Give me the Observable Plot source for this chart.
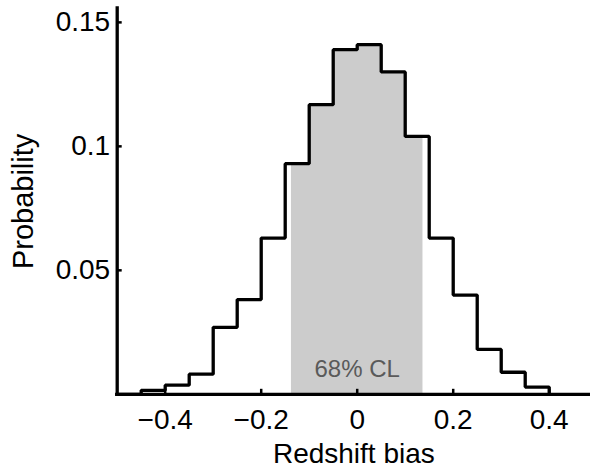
<!DOCTYPE html>
<html><head><meta charset="utf-8">
<script src="https://cdn.jsdelivr.net/npm/d3@7"></script>
<script src="https://cdn.jsdelivr.net/npm/@observablehq/plot@0.6"></script>
<style>html,body{margin:0;padding:0;background:#fff;} svg{display:block;}</style>
</head><body><div id="chart"></div>
<script>
const binStarts = [-0.45,-0.40,-0.35,-0.30,-0.25,-0.20,-0.15,-0.10,-0.05,0.00,0.05,0.10,0.15,0.20,0.25,0.30,0.35];
const binEnd = 0.40;
const probabilities = [0.0016,0.0037,0.0081,0.027,0.0382,0.063,0.093,0.1168,0.139,0.141,0.130,0.104,0.063,0.040,0.0181,0.0089,0.0029];
const clRange = [-0.137, 0.137];
const clLabel = "68% CL";
const xTicks = [-0.4,-0.2,0,0.2,0.4];
const xTickLabels = ["\u22120.4","\u22120.2","0","0.2","0.4"];
const yTicks = [0.05,0.1,0.15];
const yTickLabels = ["0.05","0.1","0.15"];
const xDomain = [-0.5, 0.486];
const yDomain = [0, 0.1556];
const xLabel = "Redshift bias";
const yLabel = "Probability";

// histogram outline (step-after)
const outline = [{x: xDomain[0], y: 0}];
binStarts.forEach((b, i) => outline.push({x: b, y: probabilities[i]}));
outline.push({x: binEnd, y: 0});

// confidence-level fill clipped to the histogram
const clPts = [];
binStarts.forEach((b, i) => {
  const e = i < binStarts.length - 1 ? binStarts[i + 1] : binEnd;
  if (e > clRange[0] && b < clRange[1]) clPts.push({x: Math.max(b, clRange[0]), y: probabilities[i]});
});
clPts.push({x: clRange[1], y: clPts[clPts.length - 1].y});

const chart = Plot.plot({
  width: 590, height: 468,
  marginTop: 8, marginBottom: 74.2, marginLeft: 116.7, marginRight: 0,
  style: {fontFamily: "'Liberation Sans', Arial, Helvetica, sans-serif", background: "#fff", color: "#000"},
  x: {domain: xDomain, label: null},
  y: {domain: yDomain, label: null},
  marks: [
    Plot.areaY(clPts, {x: "x", y: "y", curve: "step-after", fill: "#cccccc"}),
    Plot.line(outline, {x: "x", y: "y", curve: "step-after", stroke: "#000", strokeWidth: 3.3, strokeLinejoin: "miter"}),
    Plot.ruleY([0], {stroke: "#000", strokeWidth: 3.3, strokeLinecap: "square"}),
    Plot.ruleX([xDomain[0]], {stroke: "#000", strokeWidth: 3.3, strokeLinecap: "square"}),
    Plot.axisX({ticks: xTicks, tickSize: -5, strokeWidth: 2.5, fill: "none", label: null}),
    Plot.axisX({ticks: xTicks, tickSize: 0, tickPadding: 14.5, fontSize: 28, label: null,
      tickFormat: d => xTickLabels[xTicks.indexOf(d)]}),
    Plot.axisY({ticks: yTicks, tickSize: -5, strokeWidth: 2.5, fill: "none", label: null}),
    Plot.axisY({ticks: yTicks, tickSize: 0, tickPadding: 7, fontSize: 28, label: null,
      tickFormat: d => yTickLabels[yTicks.indexOf(d)]}),
    Plot.text([clLabel], {x: (clRange[0] + clRange[1]) / 2, frameAnchor: "bottom", lineAnchor: "bottom",
      dy: -17, fontSize: 24, fill: "#5a5a5a"}),
    Plot.text([xLabel], {frameAnchor: "bottom", lineAnchor: "middle", textAnchor: "middle", dy: 59.5, fontSize: 28, fill: "#000"}),
    Plot.text([yLabel], {frameAnchor: "left", lineAnchor: "middle", textAnchor: "middle", rotate: -90, dx: -93, fontSize: 29, fill: "#000"})
  ]
});
document.getElementById("chart").appendChild(chart);
</script>
</body></html>
